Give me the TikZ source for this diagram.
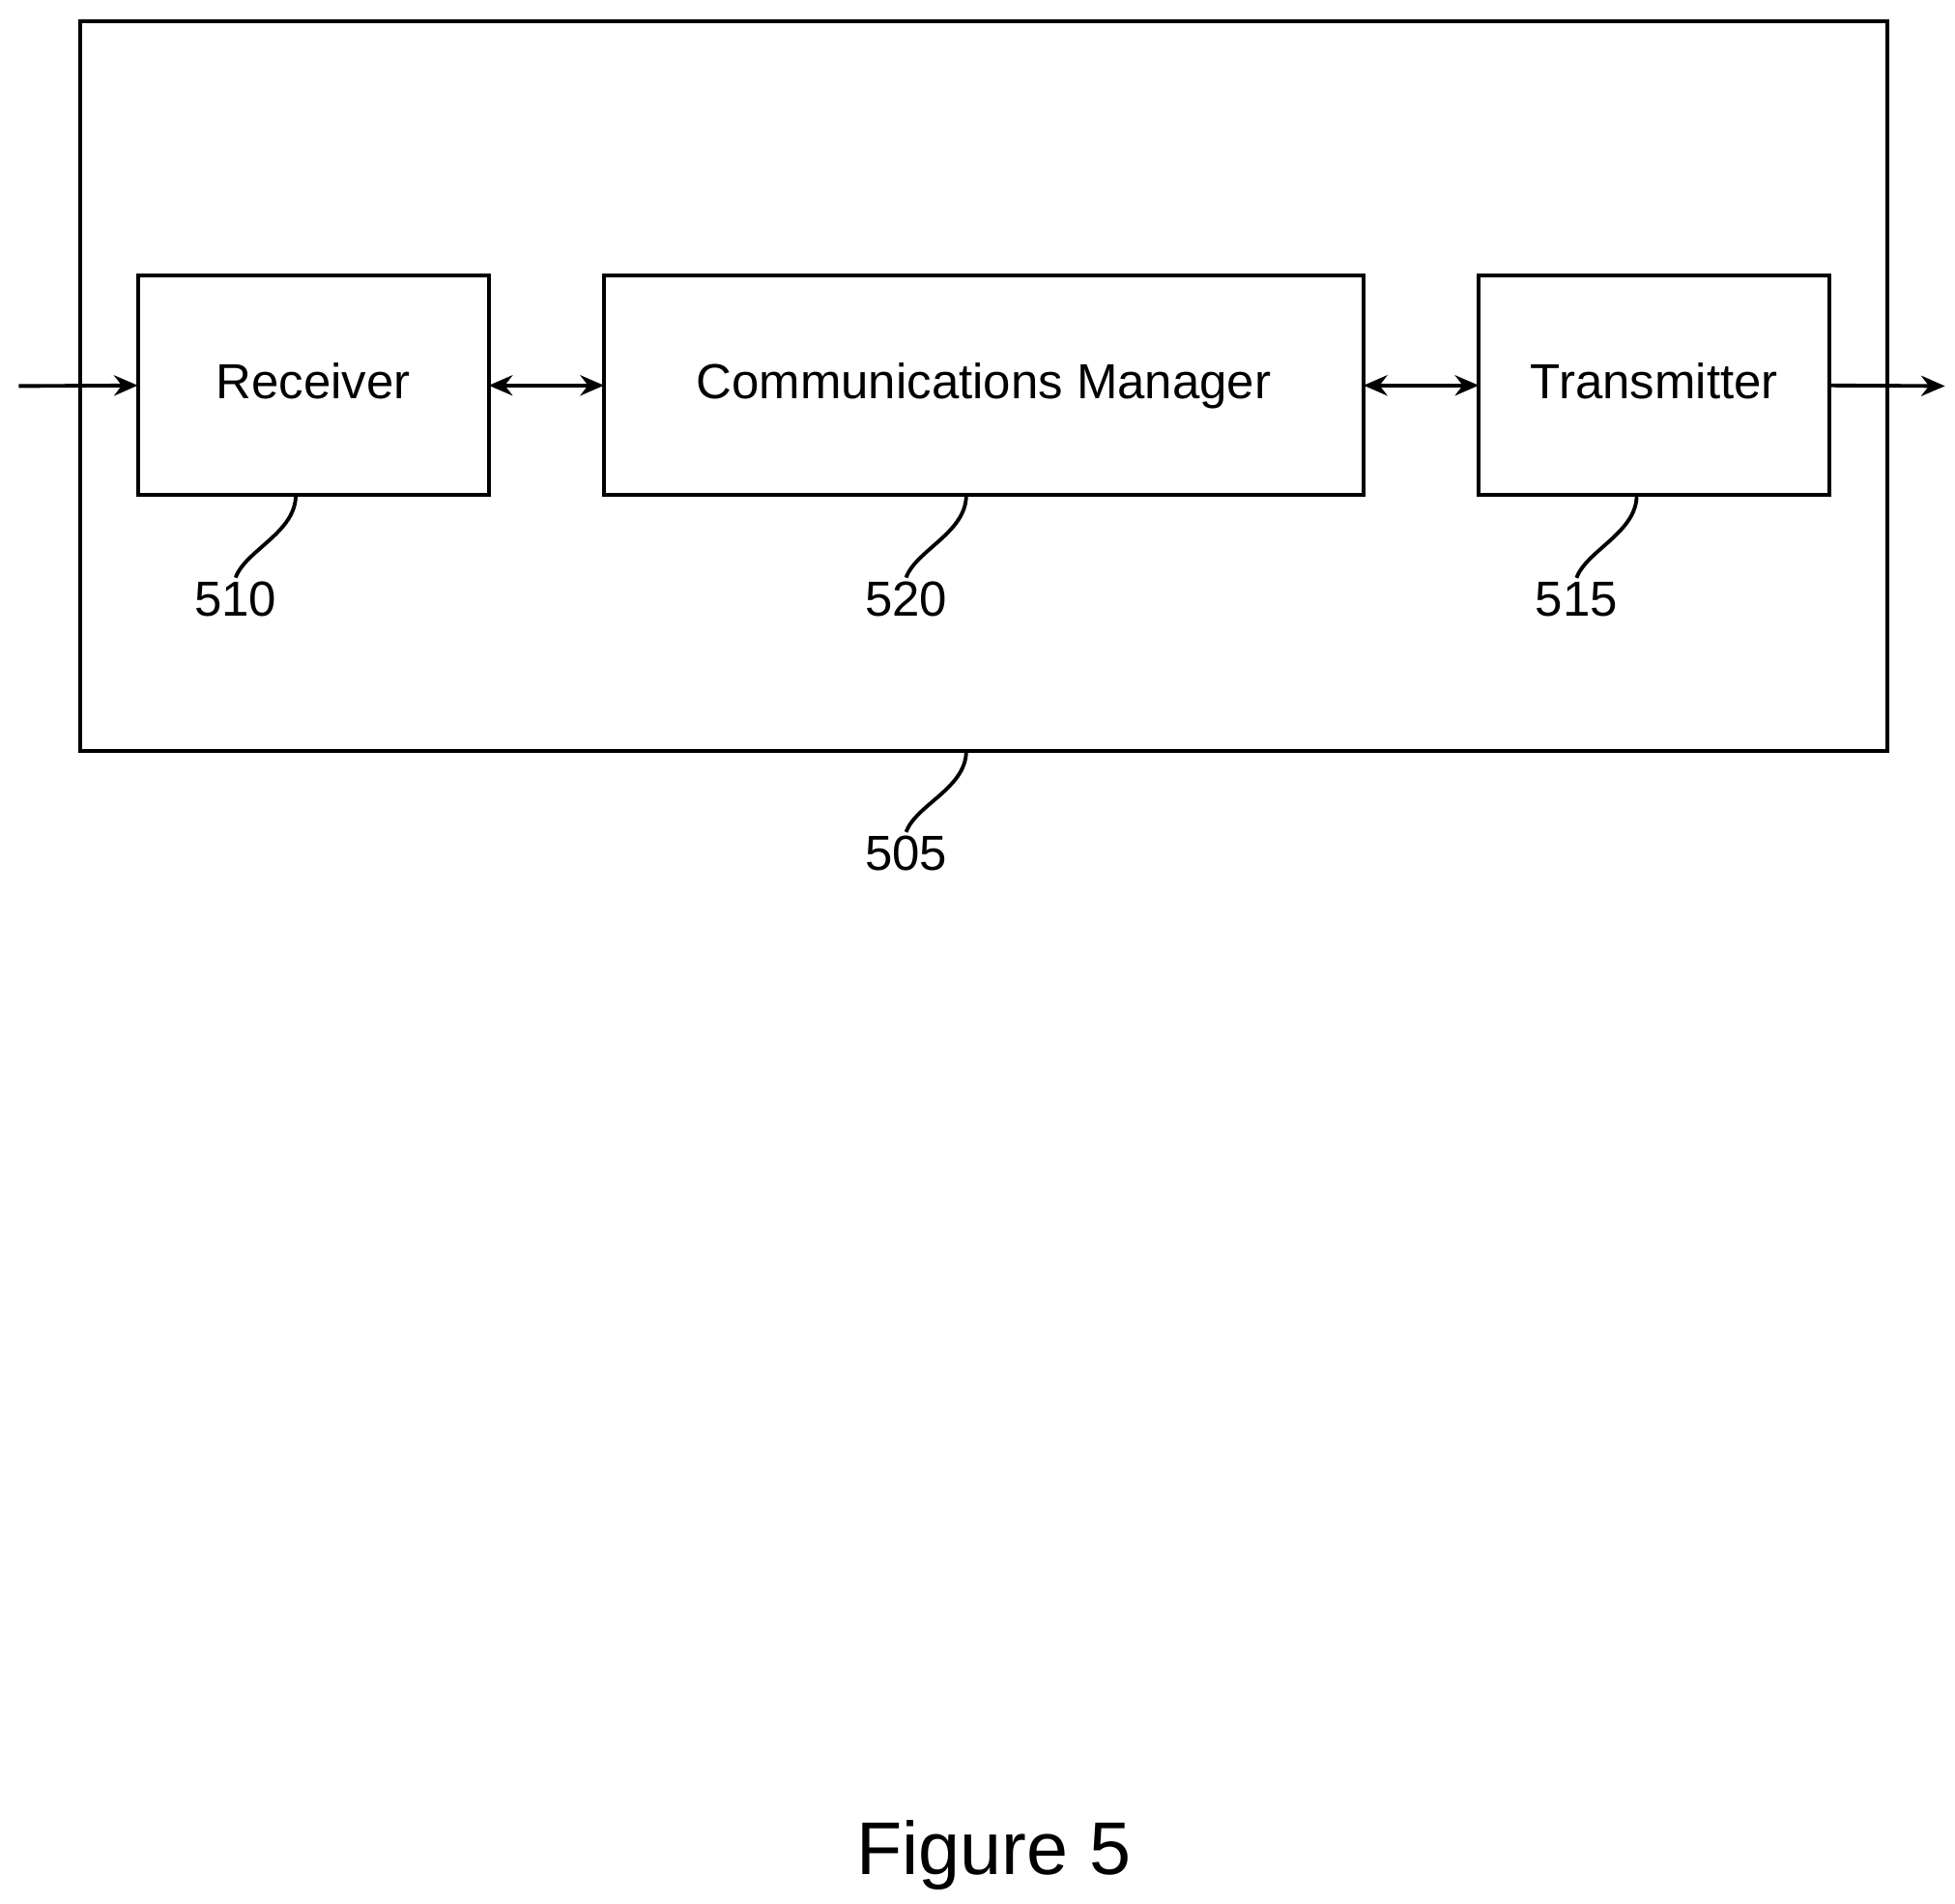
\documentclass[tikz,border=0pt]{standalone}
\usepackage{fontspec}
\setmainfont{Liberation Sans}
\usetikzlibrary{arrows.meta}

\tikzset{
  block/.style = {draw, line width = 1.1pt, inner sep = 0pt, outer sep = 0pt, text height = 1.5ex, text depth = 0pt, font = \fontsize{14.5}{17}\selectfont},
  ref/.style = {font = \fontsize{14.5}{17}\selectfont, inner sep = 1pt},
  link/.style = {line width = 1.1pt, {Stealth[length = 7pt, width = 6pt]}-{Stealth[length = 7pt, width = 6pt]}},
  lead/.style = {line width = 1.1pt}
}

\begin{document}
\begin{tikzpicture}[x = 0.01297cm, y = -0.01297cm]
\useasboundingbox (0,0) rectangle (1560,1519);

\node [block, minimum width = 18.70cm, minimum height = 7.549cm] (dev) at (785,308) {};
\node [block, minimum width = 3.632cm, minimum height = 2.27cm] (rx) at (250,307.5) {Receiver};
\node [block, minimum width = 7.86cm, minimum height = 2.27cm] (cm) at (785,307.5) {Communications Manager};
\node [block, minimum width = 3.632cm, minimum height = 2.27cm] (tx) at (1320,307.5) {Transmitter};

\coordinate (in) at (15,308);
\coordinate (out) at (1552,308);

\node [ref] (l510) at (188,478) {510};
\node [ref] (l520) at (723,478) {520};
\node [ref] (l515) at (1258,478) {515};
\node [ref] (l505) at (723,681) {505};

\node [font = \fontsize{22}{26}\selectfont] (fig) at (793,1480) {Figure 5};

\draw [line width = 1.1pt, -{Stealth[length = 7pt, width = 6pt]}] (in) -- (rx.west);
\draw [line width = 1.1pt, -{Stealth[length = 7pt, width = 6pt]}] (tx.east) -- (out);
\draw [link] (rx.east) -- (cm.west);
\draw [link] (cm.east) -- (tx.west);

\draw [lead] ([xshift = -14*0.01297cm]rx.south) .. controls +(0,30) and +(8,-22) .. (l510.north);
\draw [lead] (cm.south -| 771,0) .. controls +(0,30) and +(8,-22) .. (l520.north);
\draw [lead] ([xshift = -14*0.01297cm]tx.south) .. controls +(0,30) and +(8,-22) .. (l515.north);
\draw [lead] (dev.south -| 771,0) .. controls +(0,30) and +(8,-22) .. (l505.north);
\end{tikzpicture}
\end{document}
